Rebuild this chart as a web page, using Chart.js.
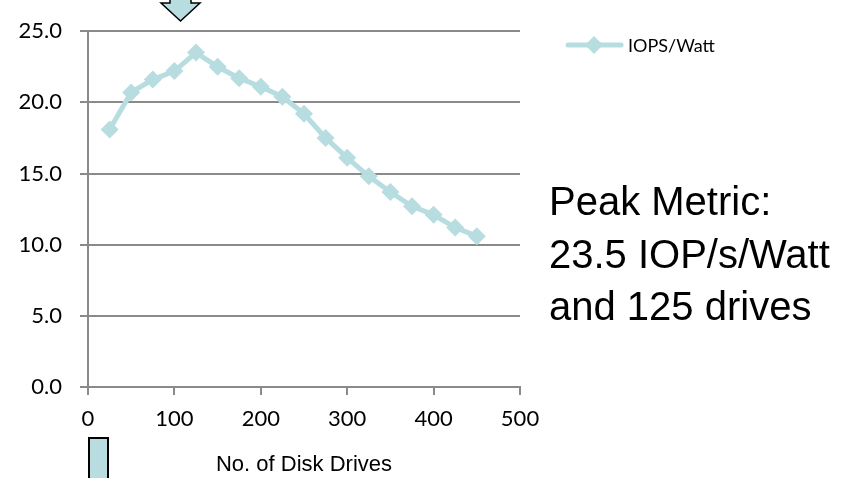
<!DOCTYPE html>
<html>
<head>
<meta charset="utf-8">
<script src="https://cdn.jsdelivr.net/npm/chart.js@4"></script>
<style>
  html, body { margin: 0; padding: 0; background: #fff; }
  canvas { display: block; }
</style>
</head>
<body>
<canvas id="iopsChart" width="865" height="478"></canvas>
<script>
// dados
const drives = [25, 50, 75, 100, 125, 150, 175, 200, 225, 250, 275, 300, 325, 350, 375, 400, 425, 450];
const iopsPerWatt = [18.1, 20.7, 21.6, 22.2, 23.5, 22.5, 21.7, 21.1, 20.4, 19.2, 17.5, 16.1, 14.8, 13.7, 12.7, 12.1, 11.2, 10.6];
const seriesName = "IOPS/Watt";
const axisTitle = "No. of Disk Drives";
const noteLines = ["Peak Metric:", "23.5 IOP/s/Watt", "and 125 drives"];

const teal = "#b7dde1";
const gridGray = "#8a8a8a";
const tickFont = "Lato";

// legenda, setas e texto desenhados à mão
const extrasPlugin = {
  id: "extras",
  afterDraw(chart) {
    const ctx = chart.ctx;
    const ds = chart.data.datasets[0];
    ctx.save();

    // legenda
    ctx.strokeStyle = ds.borderColor;
    ctx.lineWidth = 5;
    ctx.lineCap = "round";
    ctx.beginPath();
    ctx.moveTo(568, 45);
    ctx.lineTo(621, 45);
    ctx.stroke();
    ctx.fillStyle = ds.backgroundColor;
    ctx.beginPath();
    ctx.moveTo(594, 36);
    ctx.lineTo(603, 45);
    ctx.lineTo(594, 54);
    ctx.lineTo(585, 45);
    ctx.closePath();
    ctx.fill();
    ctx.fillStyle = "#000";
    ctx.font = "18px " + tickFont;
    ctx.textBaseline = "middle";
    ctx.textAlign = "left";
    ctx.fillText(ds.label, 628, 46);

    // seta para baixo
    ctx.fillStyle = "#b8dde1";
    ctx.strokeStyle = "#000";
    ctx.lineWidth = 1.5;
    ctx.lineCap = "butt";
    ctx.lineJoin = "miter";
    ctx.beginPath();
    ctx.moveTo(170, -5);
    ctx.lineTo(191, -5);
    ctx.lineTo(191, 3);
    ctx.lineTo(200, 3);
    ctx.lineTo(180.5, 21);
    ctx.lineTo(161, 3);
    ctx.lineTo(170, 3);
    ctx.closePath();
    ctx.fill();
    ctx.stroke();

    // retângulo embaixo
    ctx.lineWidth = 2;
    ctx.fillRect(89, 438, 19, 45);
    ctx.strokeRect(89, 438, 19, 45);

    // nota
    ctx.fillStyle = "#000";
    ctx.font = "40px 'Liberation Sans', Arial, sans-serif";
    ctx.textBaseline = "alphabetic";
    noteLines.forEach((t, i) => ctx.fillText(t, 549, 215 + i * 52.5));

    ctx.restore();
  }
};

new Chart(document.getElementById("iopsChart"), {
  type: "line",
  data: {
    datasets: [{
      label: seriesName,
      data: drives.map((d, i) => ({ x: d, y: iopsPerWatt[i] })),
      borderColor: teal,
      backgroundColor: teal,
      borderWidth: 5,
      pointStyle: "rectRot",
      pointRadius: 9,
      pointBorderWidth: 0,
      pointBackgroundColor: teal,
      tension: 0
    }]
  },
  options: {
    responsive: false,
    animation: false,
    layout: { padding: { top: 18, right: 345, left: 0, bottom: 0 } },
    plugins: { legend: { display: false }, tooltip: { enabled: false } },
    scales: {
      x: {
        type: "linear",
        min: 0,
        max: 500,
        afterFit(scale) { scale.height = 91; },
        ticks: {
          stepSize: 100,
          color: "#000",
          padding: 11,
          font: { family: tickFont, size: 22 }
        },
        grid: {
          drawOnChartArea: false,
          drawTicks: true,
          tickLength: 8,
          color: gridGray,
          lineWidth: 2
        },
        border: { color: gridGray, width: 2 },
        title: {
          display: true,
          text: axisTitle,
          color: "#000",
          font: { family: "'Liberation Sans', Arial, sans-serif", size: 22 },
          padding: { top: 0, bottom: 0 }
        }
      },
      y: {
        min: 0,
        max: 25,
        afterFit(scale) { scale.width = 88; },
        ticks: {
          stepSize: 5,
          color: "#000",
          padding: 18,
          font: { family: tickFont, size: 22 },
          callback: v => v.toFixed(1)
        },
        grid: {
          color: gridGray,
          lineWidth: 2,
          tickLength: 8
        },
        border: { color: gridGray, width: 2 }
      }
    }
  },
  plugins: [extrasPlugin]
});
</script>
</body>
</html>
